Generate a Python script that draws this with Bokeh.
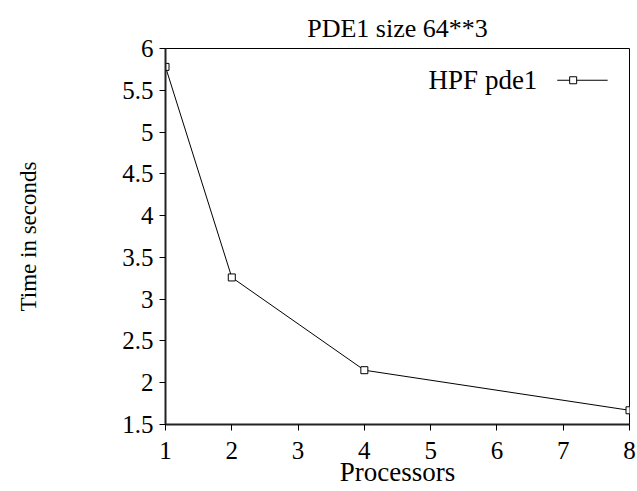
from bokeh.plotting import figure
from bokeh.models import Range1d, FixedTicker, Label
from bokeh.embed import file_html
from bokeh.resources import INLINE

processors = [1, 2, 4, 8]
times = [5.78, 3.26, 2.15, 1.67]
x_ticks = [1, 2, 3, 4, 5, 6, 7, 8]
y_ticks = [1.5, 2, 2.5, 3, 3.5, 4, 4.5, 5, 5.5, 6]
series_name = "HPF pde1"
title_text = "PDE1 size 64**3"

FONT = "Liberation Serif"

p = figure(width=637, height=491, output_backend="svg", toolbar_location=None,
           x_range=Range1d(1, 8), y_range=Range1d(1.5, 6),
           min_border_left=165, min_border_right=8, min_border_top=48, min_border_bottom=67)
p.title.text = title_text
p.title.align = "center"
p.title.vertical_align = "middle"
p.title.text_font = FONT
p.title.text_font_size = "26px"
p.title.text_font_style = "normal"
p.title.text_color = "black"
p.title.offset = 0
p.title.standoff = 10

p.xgrid.visible = False
p.ygrid.visible = False
p.outline_line_color = "black"
p.outline_line_width = 1
p.background_fill_color = "white"
p.border_fill_color = "white"

for ax in (p.xaxis[0], p.yaxis[0]):
    ax.axis_line_width = 2
    ax.axis_line_color = "#222222"
    ax.major_tick_line_color = "black"
    ax.major_tick_out = 6
    ax.major_tick_in = 0
    ax.minor_tick_line_color = None
    ax.major_label_text_font = FONT
    ax.major_label_text_font_size = "25px"
    ax.major_label_text_color = "black"
    ax.axis_label_text_font = FONT
    ax.axis_label_text_font_size = "27px"
    ax.axis_label_text_font_style = "normal"
    ax.axis_label_text_color = "black"

p.yaxis.axis_label_text_font_size = "23px"
p.xaxis.ticker = FixedTicker(ticks=x_ticks)
p.yaxis.ticker = FixedTicker(ticks=y_ticks)
p.xaxis.axis_label = "Processors"
p.yaxis.axis_label = "Time in seconds"
p.xaxis.major_label_standoff = 11
p.xaxis.axis_label_standoff = -5
p.yaxis.major_label_standoff = 6
p.yaxis.axis_label_standoff = 78

p.line(processors, times, line_color="black", line_width=1)
p.scatter(processors, times, marker="square", size=7, fill_color="white",
          line_color="black", line_width=1)

# legend (glyph on the right of the label, gnuplot style)
LEG_Y = 5.62
LEG_TEXT_X = 6.61
LEG_LINE_X = [6.91, 7.67]
LEG_MARK_X = 7.15
p.add_layout(Label(x=LEG_TEXT_X, y=LEG_Y, text=series_name, text_align="right",
                   text_baseline="middle", text_font=FONT, text_font_size="27px",
                   text_color="black"))
p.line(LEG_LINE_X, [LEG_Y, LEG_Y], line_color="black", line_width=1)
p.scatter([LEG_MARK_X], [LEG_Y], marker="square", size=7, fill_color="white",
          line_color="black", line_width=1)

open("out.html", "w").write(file_html(p, INLINE))
